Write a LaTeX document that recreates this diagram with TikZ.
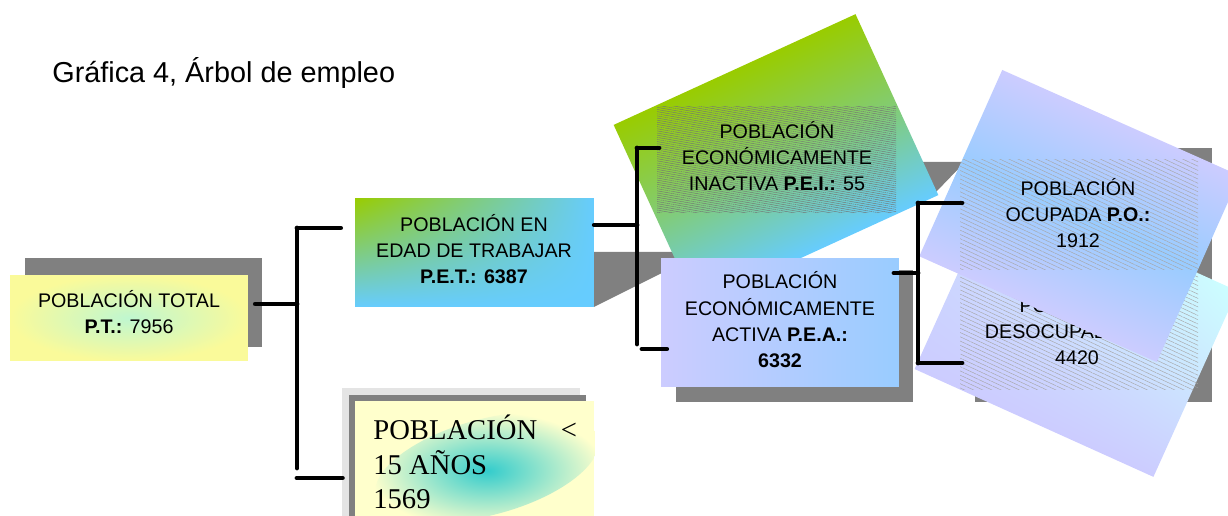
\documentclass[tikz,border=0pt]{standalone}
\usepackage{fontspec}
\setmainfont{Liberation Sans}
\newfontfamily\romana{Liberation Serif}
\usetikzlibrary{calc,patterns.meta,shadings}

\definecolor{amarillo}{HTML}{FAFA9A}
\definecolor{menta}{HTML}{BFF7D0}
\definecolor{verde}{HTML}{99CC00}
\definecolor{celeste}{HTML}{66CCFF}
\definecolor{lila}{HTML}{CCCCFF}
\definecolor{azulito}{HTML}{99CCFF}
\definecolor{cian}{HTML}{CCFFFF}
\definecolor{crema}{HTML}{FFFFCC}
\definecolor{turquesa}{HTML}{33CCCC}
\definecolor{sombra}{HTML}{808080}
\definecolor{sombraclara}{HTML}{E4E4E4}

\begin{document}
\begin{tikzpicture}[x=0.02cm,y=-0.02cm,
    caja/.style={inner sep=0pt},
    texto/.style={inner sep=0pt, align=center, font=\fontsize{11.2}{15}\selectfont},
    rama/.style={line width=2.8pt, line cap=round},
    trama/.style n args={3}{pattern={Lines[angle=#1,distance=#2,line width=0.25pt]}, pattern color=black!#3}]

    \useasboundingbox (0,0) rectangle (1228,516);

    \node [anchor=base west, inner sep=0pt, font=\fontsize{16.4}{20}\selectfont] (titulo) at (52,83) {Gráfica 4, Árbol de empleo};

    %%%% sombras
    \fill [sombra] (25,258) rectangle (262,347);
    \fill [sombraclara] (342,388) rectangle (580,520);
    \fill [sombra] (349,395) rectangle (586,520);
    \fill [sombra] (594,252) -- (690,252) -- (900,162) -- (965,162) -- (936,192) -- (720,285) -- (680,264) -- (594,307) -- cycle;
    \fill [sombra] (676,270) rectangle (913,402);
    \fill [sombra] (975,148) rectangle (1212,402);

    %%%% cajas rectas
    \node [caja, minimum width=4.76cm, minimum height=1.72cm, inner color=menta, outer color=amarillo] (pt) at (129,318) {};
    \node [texto] (pt-t) at (129,312) {POBLACIÓN TOTAL\\\textbf{P.T.:} 7956};

    \node [caja, minimum width=4.78cm, minimum height=2.18cm, upper left=verde, upper right=celeste, lower left=celeste, lower right=celeste] (pet) at (474.5,252.5) {};
    \node [texto] (pet-t) at (474,249) {POBLACIÓN EN\\EDAD DE TRABAJAR\\\textbf{P.E.T.: 6387}};

    \node [caja, minimum width=4.78cm, minimum height=2.38cm, fill=crema] (menor) at (474.5,460.5) {};
    \begin{scope}
        \clip (menor.south west) rectangle (menor.north east);
        \shade [inner color=turquesa, outer color=crema, rotate around={15:(487,467)}] (487,467) ellipse (115 and 48);
    \end{scope}
    \node [anchor=west, inner sep=0pt, align=left, font=\romana\fontsize{16.3}{19.6}\selectfont] (menor-t) at (373,462) {\makebox[116pt][l]{POBLACIÓN\hfill<}\\15 AÑOS\\1569};

    %%%% inactiva (girada)
    \begin{scope}[transform canvas={shift={(776,160)},rotate=24.6}]
        \shade [top color=verde, bottom color=celeste, middle color=celeste!45!verde] (-133,-99.5) rectangle (133,99.5);
    \end{scope}
    \path [trama={-10}{1.2pt}{55}] (657,107) rectangle (896,213);
    \node [texto] (pei) at (777,156) {POBLACIÓN\\ECONÓMICAMENTE\\INACTIVA \textbf{P.E.I.:} 55};
    \coordinate (pei-w) at (659,148);

    \node [caja, minimum width=4.76cm, minimum height=2.58cm, left color=lila, right color=azulito] (pea) at (780,322.5) {};
    \node [texto] (pea-t) at (780,320) {POBLACIÓN\\ECONÓMICAMENTE\\ACTIVA \textbf{P.E.A.:}\\\textbf{6332}};

    %%%% desocupada y ocupada (giradas)
    \begin{scope}[transform canvas={shift={(1076,330)},rotate=-24.3}]
        \shade [upper left=lila!60!cian, upper right=cian, lower left=lila, lower right=lila] (-131,-102) rectangle (131,102);
    \end{scope}
    \path [trama={-25}{2.2pt}{35}] (960,273) rectangle (1198,390);
    \node [texto] (pd) at (1077,330) {POBLACIÓN\\DESOCUPADA \textbf{P.D.:}\\4420};
    \coordinate (pd-w) at (962,363);

    \begin{scope}[transform canvas={shift={(1079.5,216)},rotate=-24}]
        \shade [top color=lila, bottom color=lila, middle color=azulito] (-130,-102) rectangle (130,102);
    \end{scope}
    \path [trama={-25}{2.2pt}{35}] (960,160) rectangle (1198,270);
    \node [texto] (po) at (1078,213) {POBLACIÓN\\OCUPADA \textbf{P.O.:}\\1912};
    \coordinate (po-w) at (962,203);

    %%%% ramas
    \coordinate (r1) at (297,304);
    \coordinate (r1n) at (297,228);
    \coordinate (r1s) at (297,468);
    \coordinate (r1t) at (297,478);
    \draw [rama] ([xshift=4pt]pt.east |- r1) -- (r1);
    \draw [rama] (r1n) -- (r1s);
    \draw [rama] (r1n) -- ([xshift=-8pt]pet.west |- r1n);
    \draw [rama] (r1t) -- ([xshift=-7pt]menor.west |- r1t);

    \coordinate (r2) at (637,225);
    \coordinate (r2n) at (637,148);
    \coordinate (r2s) at (637,344);
    \coordinate (r2t) at (642,349);
    \draw [rama] (pet.east |- r2) -- (r2);
    \draw [rama] (r2n) -- (r2s);
    \draw [rama] (r2n) -- (pei-w);
    \draw [rama] (r2t) -- ([xshift=3.4pt]pea.west |- r2t);

    \coordinate (r3) at (918,273);
    \coordinate (r3n) at (918,203);
    \coordinate (r3s) at (918,363);
    \draw [rama] ([xshift=-3pt]pea.east |- r3) -- (r3);
    \draw [rama] (r3n) -- (r3s);
    \draw [rama] (r3n) -- (po-w);
    \draw [rama] (r3s) -- (pd-w);

\end{tikzpicture}
\end{document}
